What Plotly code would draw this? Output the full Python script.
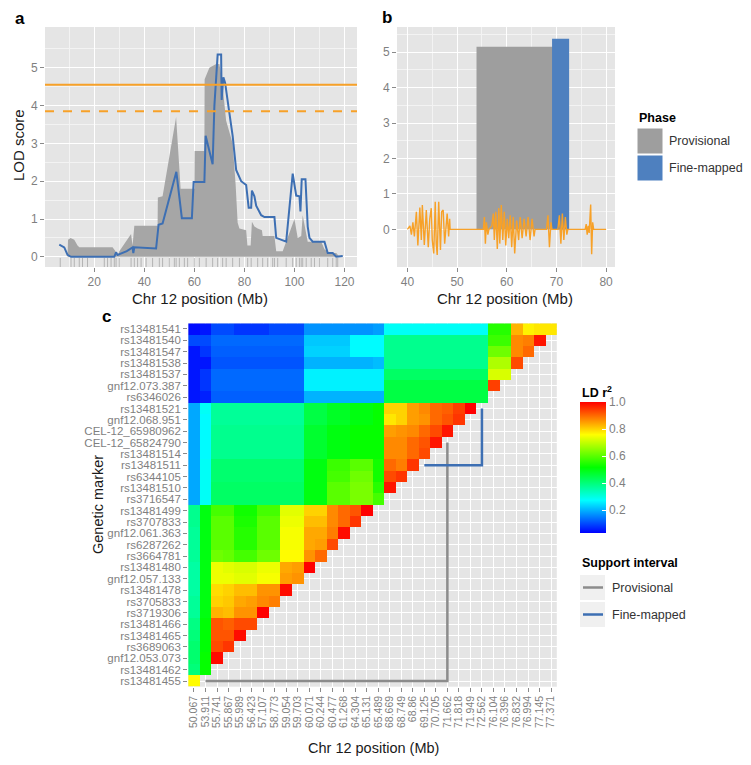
import plotly.graph_objects as go

W, H = 751, 765
def px(x): return x / W
def py(y): return 1 - y / H

FONT = "Liberation Sans, Arial, sans-serif"
GRAY_TXT = "#7F7F7F"
BG = "#E5E5E5"
ORANGE = "#F7A128"
BLUE = "#3D6FB3"
BLUE_FILL = "#4E80BF"
GRAY_FILL = "#A6A6A6"

# ---------------- Panel a: LOD profiles ----------------
rug_pos = [6.4, 10.7, 12.0, 14.0, 15.3, 17.3, 24.0, 25.3, 26.7, 28.0, 28.7, 30.0, 34.7, 36.0,
           37.3, 38.7, 40.7, 43.3, 46.0, 47.3, 50.0, 52.0, 52.7, 54.0, 56.0, 57.3, 60.0, 62.0,
           64.7, 67.3, 69.3, 71.3, 72.7, 75.3, 78.0, 81.3, 82.7, 85.3, 87.3, 89.3, 91.3, 92.0,
           93.3, 96.7, 99.3, 100.7, 102.0, 102.7, 103.3, 104.7, 106.7, 108.0, 110.0, 113.3,
           115.3, 116.7, 117.3]
prov_x = [9.3, 9.5, 10.5, 12.0, 13.3, 14.0, 27.3, 28.5, 29.3, 30.0, 34.7, 35.3, 36.0, 45.3,
          45.4, 47.3, 52.7, 54.5, 60.0, 60.1, 64.0, 64.1, 66.0, 68.7, 70.0, 71.0, 72.7, 75.3,
          76.5, 77.3, 78.0, 80.7, 81.2, 82.5, 83.0, 84.0, 85.3, 87.0, 87.3, 92.0, 92.7, 95.3,
          100.0, 101.3, 102.7, 103.3, 105.3, 110.7, 112.0, 114.0, 116.7, 118.0]
prov_lod = [0.0, 0.45, 0.5, 0.45, 0.3, 0.25, 0.25, 0.15, 0.0, 0.15, 0.6, 0.3, 0.82, 0.82,
            1.57, 1.6, 3.7, 1.8, 1.8, 2.8, 2.8, 4.7, 5.0, 5.1, 5.1, 4.7, 3.6, 3.0,
            1.9, 0.9, 0.75, 0.7, 0.3, 0.3, 0.93, 0.8, 0.75, 0.7, 0.55, 0.55, 0.15, 0.15,
            1.0, 0.5, 0.55, 1.1, 0.4, 0.4, 0.2, 0.1, 0.1, 0.0]
fine_x = [6.0, 8.0, 9.3, 10.7, 20.0, 28.0, 28.7, 29.3, 33.0, 35.3, 35.6, 36.0, 44.7, 45.7,
          47.3, 52.8, 55.0, 59.0, 59.7, 64.0, 64.5, 67.3, 68.0, 69.3, 70.7, 70.9, 71.6, 72.3,
          74.0, 75.3, 76.7, 78.7, 80.7, 81.7, 82.7, 83.0, 84.0, 84.7, 86.7, 88.0, 92.0, 92.7,
          96.7, 99.3, 100.7, 102.0, 102.4, 102.9, 104.4, 105.3, 106.0, 107.3, 112.0, 113.3,
          115.3, 116.7, 119.3]
fine_lod = [0.32, 0.25, 0.05, 0.0, 0.0, 0.0, 0.12, 0.05, 0.15, 0.25, 0.1, 0.25, 0.22, 0.85,
            0.88, 2.25, 1.02, 1.02, 1.98, 1.98, 3.2, 2.45, 4.0, 5.35, 5.35, 4.15, 4.75, 4.6,
            3.8, 3.2, 2.3, 2.0, 1.9, 1.3, 1.3, 1.75, 1.6, 1.35, 1.1, 1.05, 1.05, 0.5,
            0.4, 2.2, 1.62, 1.6, 1.2, 2.05, 2.05, 0.8, 0.5, 0.4, 0.4, 0.1,
            0.1, 0.0, 0.02]
threshold_solid = 4.55
threshold_dashed = 3.85

# ---------------- Panel b: support intervals ----------------
phase_names = ["Provisional", "Fine-mapped"]
phase_start = [53.911, 69.125]
phase_end = [71.662, 72.562]
phase_peak = [5.15, 5.38]
phase_colors = ["#9E9E9E", BLUE_FILL]
wiggle_x = [40.0, 40.5, 40.8, 41.1, 41.4, 41.8, 42.1, 42.5, 42.8, 43.0, 43.4, 43.8, 44.2, 44.5,
            44.8, 45.0, 45.3, 45.6, 45.8, 46.0, 46.3, 46.5, 46.65, 46.9, 47.2, 47.5, 47.8, 48.0,
            48.3, 48.5, 48.6, 55.3, 55.5, 55.7, 55.9, 56.2, 56.4, 57.0, 57.3, 57.5, 57.8, 58.1,
            58.4, 58.6, 58.9, 59.2, 59.5, 59.8, 60.1, 60.4, 60.7, 61.0, 61.3, 61.6, 62.0, 62.4,
            62.7, 63.1, 63.5, 63.9, 64.3, 64.7, 65.1, 65.5, 65.7, 68.0, 68.3, 68.6, 68.9, 69.1,
            70.3, 70.6, 70.9, 71.2, 71.5, 71.8, 72.1, 72.3, 75.8, 76.0, 76.2, 76.4, 76.6, 76.9,
            77.1, 77.3, 77.5, 80.0]
wiggle_y = [0.0, 0.1, -0.15, 0.2, -0.2, 0.5, -0.45, 0.62, -0.3, 0.69, -0.44, 0.55, -0.5, 0.3,
            0.6, -0.3, -0.68, 0.78, -0.4, -0.72, 0.78, -0.3, -0.58, 0.5, 0.55, -0.4, 0.3, 0.45,
            -0.2, 0.3, 0.0, 0.0, 0.35, -0.4, 0.2, -0.15, 0.0, 0.1, 0.45, -0.3, 0.5, -0.55,
            0.6, -0.4, 0.69, -0.3, 0.5, -0.45, 0.3, -0.25, 0.4, -0.5, 0.35, -0.68, 0.25, -0.3,
            0.35, -0.25, 0.3, -0.2, 0.35, -0.3, 0.3, -0.2, 0.0, 0.0, 0.4, -0.5, 0.2, 0.0,
            0.0, 0.4, -0.4, 0.45, -0.3, 0.35, -0.15, 0.0, 0.0, 0.15, -0.15, 0.1, -0.1, 0.7,
            -0.7, 0.2, 0.0, 0.0]

# ---------------- Panel c: LD heatmap ----------------
markers_top_to_bottom = [
    "rs13481541", "rs13481540", "rs13481547", "rs13481538", "rs13481537", "gnf12.073.387",
    "rs6346026", "rs13481521", "gnf12.068.951", "CEL-12_65980962", "CEL-12_65824790",
    "rs13481514", "rs13481511", "rs6344105", "rs13481510", "rs3716547", "rs13481499",
    "rs3707833", "gnf12.061.363", "rs6287262", "rs3664781", "rs13481480", "gnf12.057.133",
    "rs13481478", "rs3705833", "rs3719306", "rs13481466", "rs13481465", "rs3689063",
    "gnf12.053.073", "rs13481462", "rs13481455"]
positions = ["50.067", "53.911", "55.741", "55.867", "55.989", "56.423", "57.107", "58.773",
             "59.054", "59.703", "60.071", "60.244", "60.477", "61.268", "64.304", "65.131",
             "65.489", "68.669", "68.749", "68.86", "69.125", "70.705", "71.662", "71.818",
             "71.949", "72.562", "76.104", "76.396", "76.832", "76.994", "77.145", "77.371"]
# LD r^2 rows, from bottom marker (rs13481455) upward; row k has k+1 values
ld_rows = [
    [0.76],
    [0.40, 0.52],
    [0.41, 0.52, 0.99],
    [0.41, 0.51, 0.93, 0.95],
    [0.40, 0.51, 0.92, 0.92, 0.99],
    [0.39, 0.51, 0.92, 0.91, 0.93, 0.93],
    [0.37, 0.50, 0.83, 0.82, 0.86, 0.86, 1.00],
    [0.37, 0.50, 0.80, 0.81, 0.84, 0.85, 0.87, 0.88],
    [0.36, 0.50, 0.79, 0.80, 0.82, 0.82, 0.86, 0.86, 0.99],
    [0.36, 0.50, 0.74, 0.74, 0.73, 0.73, 0.75, 0.75, 0.85, 0.86],
    [0.36, 0.50, 0.74, 0.73, 0.72, 0.72, 0.74, 0.74, 0.84, 0.85, 1.00],
    [0.37, 0.50, 0.62, 0.61, 0.58, 0.58, 0.62, 0.62, 0.76, 0.76, 0.86, 0.90],
    [0.37, 0.50, 0.60, 0.60, 0.55, 0.55, 0.60, 0.60, 0.75, 0.75, 0.84, 0.85, 0.93],
    [0.37, 0.50, 0.60, 0.60, 0.55, 0.55, 0.60, 0.60, 0.75, 0.75, 0.84, 0.84, 0.88, 0.99],
    [0.38, 0.50, 0.60, 0.60, 0.54, 0.54, 0.60, 0.60, 0.74, 0.74, 0.82, 0.82, 0.87, 0.90, 0.95],
    [0.38, 0.50, 0.58, 0.58, 0.53, 0.53, 0.58, 0.58, 0.73, 0.73, 0.80, 0.80, 0.87, 0.90, 0.92, 1.00],
    [0.19, 0.28, 0.42, 0.42, 0.42, 0.42, 0.42, 0.42, 0.42, 0.42, 0.50, 0.50, 0.60, 0.60, 0.63, 0.63,
     0.58],
    [0.19, 0.28, 0.42, 0.42, 0.42, 0.42, 0.42, 0.42, 0.42, 0.42, 0.50, 0.50, 0.60, 0.60, 0.63, 0.63,
     0.55, 0.98],
    [0.19, 0.28, 0.41, 0.41, 0.41, 0.41, 0.41, 0.41, 0.41, 0.41, 0.50, 0.50, 0.58, 0.58, 0.62, 0.62,
     0.53, 0.93, 0.95],
    [0.19, 0.28, 0.41, 0.41, 0.41, 0.41, 0.41, 0.41, 0.41, 0.41, 0.50, 0.50, 0.57, 0.57, 0.60, 0.60,
     0.53, 0.90, 0.88, 0.95],
    [0.19, 0.27, 0.38, 0.38, 0.38, 0.38, 0.38, 0.38, 0.38, 0.38, 0.47, 0.47, 0.50, 0.50, 0.52, 0.52,
     0.52, 0.87, 0.87, 0.90, 0.93],
    [0.19, 0.27, 0.38, 0.38, 0.38, 0.38, 0.38, 0.38, 0.38, 0.38, 0.47, 0.47, 0.50, 0.50, 0.52, 0.52,
     0.52, 0.87, 0.87, 0.90, 0.92, 0.98],
    [0.19, 0.27, 0.38, 0.38, 0.38, 0.38, 0.38, 0.38, 0.38, 0.38, 0.47, 0.47, 0.50, 0.50, 0.52, 0.52,
     0.52, 0.85, 0.86, 0.87, 0.90, 0.93, 0.98],
    [0.19, 0.27, 0.37, 0.37, 0.37, 0.37, 0.37, 0.37, 0.37, 0.37, 0.45, 0.45, 0.48, 0.48, 0.50, 0.50,
     0.52, 0.78, 0.80, 0.85, 0.86, 0.90, 0.92, 0.95],
    [0.19, 0.28, 0.37, 0.37, 0.37, 0.37, 0.37, 0.37, 0.37, 0.37, 0.45, 0.45, 0.48, 0.48, 0.50, 0.50,
     0.52, 0.80, 0.80, 0.85, 0.87, 0.90, 0.91, 0.94, 1.00],
    [0.05, 0.06, 0.12, 0.12, 0.12, 0.12, 0.12, 0.12, 0.12, 0.12, 0.20, 0.20, 0.20, 0.20, 0.20, 0.20,
     0.20, 0.45, 0.45, 0.45, 0.45, 0.45, 0.45, 0.45, 0.45, 0.45],
    [0.05, 0.08, 0.13, 0.13, 0.13, 0.13, 0.13, 0.13, 0.13, 0.13, 0.26, 0.26, 0.26, 0.26, 0.26, 0.26,
     0.26, 0.45, 0.45, 0.45, 0.45, 0.45, 0.45, 0.45, 0.45, 0.45, 0.94],
    [0.05, 0.08, 0.13, 0.13, 0.13, 0.13, 0.13, 0.13, 0.13, 0.13, 0.26, 0.26, 0.26, 0.26, 0.26, 0.26,
     0.26, 0.42, 0.42, 0.42, 0.42, 0.42, 0.42, 0.42, 0.42, 0.42, 0.72, 0.72],
    [0.05, 0.05, 0.11, 0.11, 0.11, 0.11, 0.11, 0.11, 0.11, 0.11, 0.20, 0.20, 0.20, 0.20, 0.20, 0.20,
     0.21, 0.38, 0.38, 0.38, 0.38, 0.38, 0.38, 0.38, 0.38, 0.38, 0.68, 0.68, 0.93],
    [0.05, 0.08, 0.12, 0.12, 0.12, 0.12, 0.12, 0.12, 0.12, 0.12, 0.23, 0.23, 0.23, 0.23, 0.27, 0.27,
     0.27, 0.38, 0.38, 0.38, 0.38, 0.38, 0.38, 0.38, 0.38, 0.38, 0.62, 0.62, 0.87, 0.90],
    [0.10, 0.10, 0.13, 0.13, 0.13, 0.13, 0.13, 0.13, 0.13, 0.13, 0.22, 0.22, 0.22, 0.22, 0.27, 0.27,
     0.27, 0.38, 0.38, 0.38, 0.38, 0.38, 0.38, 0.38, 0.38, 0.38, 0.57, 0.57, 0.87, 0.88, 0.98],
    [0.04, 0.05, 0.10, 0.10, 0.08, 0.08, 0.08, 0.10, 0.10, 0.10, 0.17, 0.17, 0.17, 0.17, 0.17, 0.17,
     0.18, 0.28, 0.28, 0.28, 0.28, 0.28, 0.28, 0.28, 0.28, 0.28, 0.55, 0.55, 0.83, 0.77, 0.78, 0.78],
]
interval_names = ["Provisional", "Fine-mapped"]
interval_start = ["53.911", "69.125"]
interval_end = ["71.662", "72.562"]
interval_colors = ["#8C8C8C", "#3D6FB3"]

# ---------------- Build figure ----------------
n = len(positions)
markers_bottom_up = markers_top_to_bottom[::-1]
Z = [[(row[c] if c < len(row) else None) for c in range(n)] for row in ld_rows]

fig = go.Figure()

# panel a
fig.add_trace(go.Scatter(x=prov_x, y=prov_lod, mode="lines", fill="tozeroy",
                         fillcolor=GRAY_FILL, line=dict(width=0, color=GRAY_FILL),
                         xaxis="x", yaxis="y", hoverinfo="skip"))
fig.add_trace(go.Scatter(x=rug_pos, y=[-0.16] * len(rug_pos), mode="markers",
                         marker=dict(symbol="line-ns", size=7,
                                     line=dict(width=1, color="rgba(120,120,120,0.45)")),
                         xaxis="x", yaxis="y", hoverinfo="skip"))
fig.add_trace(go.Scatter(x=fine_x, y=fine_lod, mode="lines",
                         line=dict(width=2, color=BLUE), xaxis="x", yaxis="y"))
fig.add_trace(go.Scatter(x=[0.3, 125], y=[threshold_solid] * 2, mode="lines",
                         line=dict(width=2, color=ORANGE), xaxis="x", yaxis="y"))
fig.add_trace(go.Scatter(x=[0.3, 125], y=[threshold_dashed] * 2, mode="lines",
                         line=dict(width=2, color=ORANGE, dash="dash"), xaxis="x", yaxis="y"))

# panel b
for s, e, pk, col in zip(phase_start, phase_end, phase_peak, phase_colors):
    fig.add_trace(go.Bar(x=[(s + e) / 2], y=[pk], width=[e - s], marker=dict(color=col, line=dict(width=0)),
                         xaxis="x2", yaxis="y2"))
fig.add_trace(go.Scatter(x=wiggle_x, y=wiggle_y, mode="lines",
                         line=dict(width=1.4, color=ORANGE), xaxis="x2", yaxis="y2"))

# panel c
rainbow = [[0.0, "#0000FF"], [0.25, "#00FFFF"], [0.5, "#00FF00"], [0.75, "#FFFF00"], [1.0, "#FF0000"]]
fig.add_trace(go.Heatmap(
    x=list(range(n)), y=list(range(n)), z=Z, colorscale=rainbow, zmin=0.03, zmax=1.0,
    hoverongaps=False, xaxis="x3", yaxis="y3",
    colorbar=dict(x=px(580), xanchor="left", y=py(467.5), yanchor="middle",
                  len=131 / H, lenmode="fraction", thickness=26, thicknessmode="pixels",
                  xpad=0, ypad=0, outlinewidth=0, tickvals=[0.2, 0.4, 0.6, 0.8, 1.0],
                  ticktext=["0.2", "0.4", "0.6", "0.8", "1.0"], ticks="inside", ticklen=4,
                  tickcolor="white", tickfont=dict(size=12, color=GRAY_TXT, family=FONT))))
for name, s, e, col in zip(interval_names, interval_start, interval_end, interval_colors):
    a = positions.index(s)
    b = positions.index(e)
    fig.add_trace(go.Scatter(x=[a, b, b], y=[a - 1, a - 1, b - 1], mode="lines",
                             line=dict(width=2.5, color=col), xaxis="x3", yaxis="y3"))

axis_common = dict(showline=False, zeroline=False, ticks="outside", ticklen=4, tickwidth=1,
                   tickcolor="#8A8A8A", gridcolor="white", gridwidth=1.4,
                   tickfont=dict(size=12, color=GRAY_TXT, family=FONT))
minor_common = dict(showgrid=True, gridcolor="#F3F3F3", gridwidth=0.7, ticks="")

fig.update_layout(
    width=W, height=H, margin=dict(l=0, r=0, t=0, b=0), autosize=False,
    paper_bgcolor="white", plot_bgcolor=BG, showlegend=False, barmode="overlay",
    font=dict(family=FONT),
    xaxis=dict(domain=[px(45), px(357)], range=[0.3, 125], anchor="y",
               tickvals=[20, 40, 60, 80, 100, 120],
               minor=dict(tickvals=[10, 30, 50, 70, 90, 110], **minor_common), **axis_common),
    yaxis=dict(domain=[py(267), py(27)], range=[-0.27, 6.08], anchor="x",
               tickvals=[0, 1, 2, 3, 4, 5],
               minor=dict(tickvals=[0.5, 1.5, 2.5, 3.5, 4.5, 5.5], **minor_common), **axis_common),
    xaxis2=dict(domain=[px(397), px(615)], range=[37.9, 81.8], anchor="y2",
                tickvals=[40, 50, 60, 70, 80],
                minor=dict(tickvals=[45, 55, 65, 75], **minor_common), **axis_common),
    yaxis2=dict(domain=[py(267), py(27)], range=[-1.06, 5.71], anchor="x2",
                tickvals=[0, 1, 2, 3, 4, 5],
                minor=dict(tickvals=[-0.5, 0.5, 1.5, 2.5, 3.5, 4.5, 5.5], **minor_common),
                **axis_common),
    xaxis3=dict(domain=[px(188.2), px(556.8)], range=[-0.5, n - 0.5], anchor="y3",
                tickvals=list(range(n)), ticktext=positions, tickangle=-90,
                **{**axis_common, "tickfont": dict(size=10.5, color=GRAY_TXT, family=FONT)}),
    yaxis3=dict(domain=[py(686.7), py(323.3)], range=[-0.5, n - 0.5], anchor="x3",
                tickvals=list(range(n)), ticktext=markers_bottom_up,
                **{**axis_common, "tickfont": dict(size=11.5, color=GRAY_TXT, family=FONT)}),
)

shapes = []
annotations = []
def text(x, y, s, size=13, bold=False, color="#1A1A1A", xanchor="center", angle=0):
    annotations.append(dict(x=px(x), y=py(y), xref="paper", yref="paper", showarrow=False,
                            text=("<b>%s</b>" % s) if bold else s, xanchor=xanchor,
                            yanchor="middle", textangle=angle,
                            font=dict(size=size, color=color, family=FONT)))

# panel labels and axis titles
text(20, 18, "a", 17, True, "black")
text(387, 17, "b", 17, True, "black")
text(107, 316, "c", 17, True, "black")
text(200, 299, "Chr 12 position (Mb)", 15)
text(505, 299, "Chr 12 position (Mb)", 15)
text(18, 145, "LOD score", 15, angle=-90)
text(373, 748, "Chr 12 position (Mb)", 14.5)
text(98, 505, "Genetic marker", 14.5, angle=-90)

# Phase legend
text(637, 118, "Phase", 12.5, True, "black", "left")
for i, (nm, col) in enumerate(zip(phase_names, phase_colors)):
    y0 = 128 + 27 * i
    shapes.append(dict(type="rect", xref="paper", yref="paper", x0=px(637), x1=px(663),
                       y0=py(y0 + 26), y1=py(y0), fillcolor=col, line=dict(width=1, color="white")))
    text(667, y0 + 13, nm, 12.5, False, "#333333", "left")

# LD legend title
text(580, 392, "LD r<sup>2</sup>", 12.5, True, "black", "left")

# Support interval legend
text(580, 563, "Support interval", 12.5, True, "black", "left")
for i, (nm, col) in enumerate(zip(interval_names, interval_colors)):
    y0 = 575 + 27 * i
    shapes.append(dict(type="rect", xref="paper", yref="paper", x0=px(580), x1=px(605),
                       y0=py(y0 + 25), y1=py(y0), fillcolor="#F0F0F0", line=dict(width=0)))
    shapes.append(dict(type="line", xref="paper", yref="paper", x0=px(583), x1=px(603),
                       y0=py(y0 + 12.5), y1=py(y0 + 12.5), line=dict(width=2.5, color=col)))
    text(610, y0 + 12.5, nm, 12.5, False, "#333333", "left")

fig.update_layout(shapes=shapes, annotations=annotations)

fig.write_html("out.html", config={"displayModeBar": False},
               post_script="document.body.style.margin='0px';")
